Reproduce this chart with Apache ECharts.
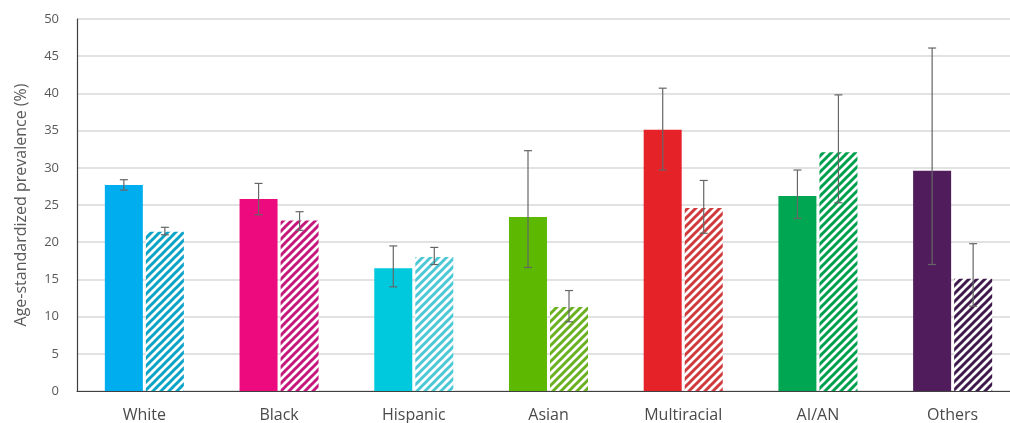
<!DOCTYPE html>
<html>
<head>
<meta charset="utf-8">
<script src="https://cdn.jsdelivr.net/npm/echarts@6/dist/echarts.min.js"></script>
<style>
  html, body { margin: 0; padding: 0; background: #ffffff; overflow: hidden; }
  #chart { width: 1022px; height: 423px; }
</style>
</head>
<body>
<div id="chart"></div>
<script>
// Race / ethnicity groups
const categories = ['White', 'Black', 'Hispanic', 'Asian', 'Multiracial', 'AI/AN', 'Others'];

// First period (solid bars) with 95% CI
const solidValues = [27.7, 25.8, 16.5, 23.4, 35.1, 26.2, 29.6];
const solidLow    = [27.0, 23.7, 14.0, 16.6, 29.7, 23.2, 17.0];
const solidHigh   = [28.4, 27.9, 19.5, 32.3, 40.7, 29.7, 46.1];

// Second period (hatched bars) with 95% CI
const hatchValues = [21.4, 22.9, 18.0, 11.3, 24.6, 32.1, 15.1];
const hatchLow    = [21.0, 21.6, 17.0, 9.3, 21.2, 25.3, 11.4];
const hatchHigh   = [22.0, 24.1, 19.3, 13.5, 28.3, 39.8, 19.8];

const yTicks = [0, 5, 10, 15, 20, 25, 30, 35, 40, 45, 50];

// Group colours
const solidColors = ['#00aeef', '#ec0a7e', '#00c9de', '#5cb800', '#e62229', '#00a651', '#501c5c'];
const hatchColors = ['#0ba3c6', '#c4187c', '#4cc8d6', '#6bb021', '#d03a3c', '#00a04f', '#3f1a4c'];

// Diagonal stripe tile used as a fill pattern
function stripePattern(color) {
  const s = 8;
  const c = document.createElement('canvas');
  c.width = s; c.height = s;
  const ctx = c.getContext('2d');
  ctx.fillStyle = '#ffffff';
  ctx.fillRect(0, 0, s, s);
  ctx.strokeStyle = color;
  ctx.lineWidth = 3;
  ctx.lineCap = 'square';
  [-s, 0, s].forEach((dx) => {
    ctx.beginPath();
    ctx.moveTo(dx, s);
    ctx.lineTo(dx + s, 0);
    ctx.stroke();
  });
  return { image: c, repeat: 'repeat' };
}

const BAR_W = 38;
const OFFSET = 20.5;

function errorSeries(low, high, shift) {
  return {
    type: 'custom',
    z: 10,
    silent: true,
    data: categories.map((c, i) => [i, low[i], high[i]]),
    renderItem: function (params, api) {
      const i = api.value(0);
      const lo = api.coord([i, api.value(1)]);
      const hi = api.coord([i, api.value(2)]);
      const x = lo[0] + shift;
      const cap = 4;
      const style = { stroke: '#666666', lineWidth: 1.2 };
      return {
        type: 'group',
        children: [
          { type: 'line', shape: { x1: x, y1: lo[1], x2: x, y2: hi[1] }, style: style },
          { type: 'line', shape: { x1: x - cap, y1: lo[1], x2: x + cap, y2: lo[1] }, style: style },
          { type: 'line', shape: { x1: x - cap, y1: hi[1], x2: x + cap, y2: hi[1] }, style: style }
        ]
      };
    }
  };
}

const chart = echarts.init(document.getElementById('chart'), null, { renderer: 'canvas' });

chart.setOption({
  animation: false,
  backgroundColor: '#ffffff',
  textStyle: { fontFamily: 'Open Sans' },
  grid: { left: 77, top: 19, width: 943, height: 372 },
  xAxis: {
    type: 'category',
    data: categories,
    axisLine: { lineStyle: { color: '#404040', width: 1.2 } },
    axisTick: { show: false },
    axisLabel: { color: '#4a4a4a', fontSize: 16, margin: 16, fontFamily: 'Open Sans' }
  },
  yAxis: {
    type: 'value',
    min: yTicks[0],
    max: yTicks[yTicks.length - 1],
    interval: 5,
    name: 'Age-standardized prevalence (%)',
    nameLocation: 'middle',
    nameGap: 48,
    nameTextStyle: { color: '#595959', fontSize: 16, fontFamily: 'Open Sans' },
    axisLine: { show: true, lineStyle: { color: '#404040', width: 1.2 } },
    axisTick: { show: false },
    axisLabel: { color: '#595959', fontSize: 13, margin: 18, fontFamily: 'Open Sans' },
    splitLine: { lineStyle: { color: '#d9d9d9', width: 1.5 } }
  },
  series: [
    {
      type: 'bar',
      barWidth: BAR_W,
      barGap: '8%',
      data: solidValues.map((v, i) => ({ value: v, itemStyle: { color: solidColors[i] } }))
    },
    {
      type: 'bar',
      barWidth: BAR_W,
      data: hatchValues.map((v, i) => ({ value: v, itemStyle: { color: stripePattern(hatchColors[i]) } }))
    },
    errorSeries(solidLow, solidHigh, -OFFSET),
    errorSeries(hatchLow, hatchHigh, OFFSET)
  ]
});
</script>
</body>
</html>
